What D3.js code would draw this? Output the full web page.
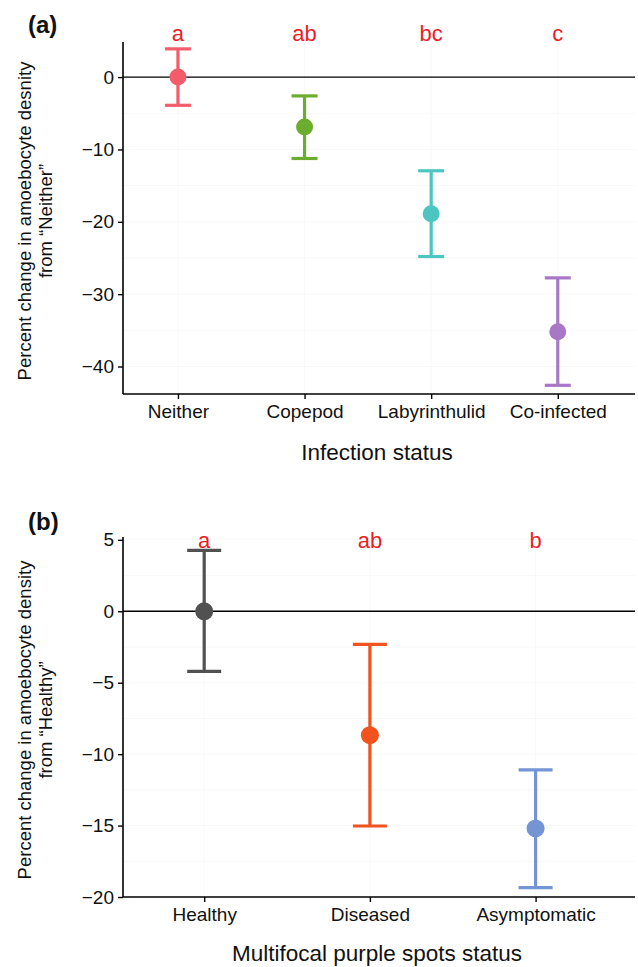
<!DOCTYPE html>
<html>
<head>
<meta charset="utf-8">
<script src="https://cdn.jsdelivr.net/npm/d3@7"></script>
<style>
  body { margin: 0; background: #fff; }
  svg { display: block; font-family: "Liberation Sans", Arial, Helvetica, sans-serif; }
</style>
</head>
<body>
<svg id="chart" width="638" height="967"></svg>
<script>
// panel (a) data
const catsA = ["Neither", "Copepod", "Labyrinthulid", "Co-infected"];
const meanA = [0, -6.9, -18.9, -35.2];
const lowA = [-3.9, -11.25, -24.8, -42.6];
const highA = [3.9, -2.6, -12.95, -27.75];
const lettersA = ["a", "ab", "bc", "c"];
const colorsA = ["#F25C6B", "#6BAE2F", "#4DC5C1", "#A877C6"];
const ticksA = [0, -10, -20, -30, -40];

// panel (b) data
const catsB = ["Healthy", "Diseased", "Asymptomatic"];
const meanB = [0, -8.67, -15.2];
const lowB = [-4.2, -15.03, -19.35];
const highB = [4.26, -2.31, -11.1];
const lettersB = ["a", "ab", "b"];
const colorsB = ["#515151", "#F0531E", "#7594D3"];
const ticksB = [5, 0, -5, -10, -15, -20];

const svg = d3.select("#chart");

function drawPanel(p) {
  const g = svg.append("g");
  const x = d3.scaleLinear().domain(p.xDomain).range([123, 635]);
  const y = d3.scaleLinear().domain(p.yDomain).range([p.bottom, p.top]);

  // faint grid
  const minor = d3.range(Math.ceil(p.yDomain[0] / p.step) * p.step, p.yDomain[1], p.step / 2);
  g.selectAll(".gy").data(minor).enter().append("line")
    .attr("x1", 123).attr("x2", 635)
    .attr("y1", d => y(d)).attr("y2", d => y(d))
    .attr("stroke", "#f8f8f8").attr("stroke-width", 1);
  g.selectAll(".gx").data(p.cats).enter().append("line")
    .attr("x1", (d, i) => x(i + 1)).attr("x2", (d, i) => x(i + 1))
    .attr("y1", p.top).attr("y2", p.bottom)
    .attr("stroke", "#f8f8f8").attr("stroke-width", 1);

  // zero line
  g.append("line")
    .attr("x1", 123).attr("x2", 635)
    .attr("y1", y(0)).attr("y2", y(0))
    .attr("stroke", "#000").attr("stroke-width", 1.4);

  // axes
  const yAxis = g.append("g")
    .attr("transform", "translate(123,0)")
    .call(d3.axisLeft(y).tickValues(p.ticks).tickSize(5).tickPadding(4).tickFormat(d => d < 0 ? "\u2212" + Math.abs(d) : d));
  const xAxis = g.append("g")
    .attr("transform", `translate(0,${p.bottom})`)
    .call(d3.axisBottom(x).tickValues(p.cats.map((d, i) => i + 1)).tickSize(5).tickPadding(6).tickFormat((d, i) => p.cats[i]));
  [yAxis, xAxis].forEach(a => {
    a.select(".domain").attr("stroke", "#000").attr("stroke-width", 1.6);
    a.selectAll(".tick line").attr("stroke", "#000").attr("stroke-width", 1.4);
    a.selectAll("text").attr("fill", "#111").style("font-size", "19px").style("font-family", "Liberation Sans, Arial, sans-serif");
  });
  yAxis.select(".domain").attr("d", `M0,${p.top}V${p.bottom}`);
  xAxis.select(".domain").attr("d", `M123,0H635`);

  // error bars
  const bars = g.selectAll(".eb").data(p.cats).enter().append("g");
  bars.append("line")
    .attr("x1", (d, i) => x(i + 1)).attr("x2", (d, i) => x(i + 1))
    .attr("y1", (d, i) => y(p.high[i])).attr("y2", (d, i) => y(p.low[i]))
    .attr("stroke", (d, i) => p.colors[i]).attr("stroke-width", 3.2);
  [p.high, p.low].forEach(arr => {
    bars.append("line")
      .attr("x1", (d, i) => x(i + 1) - p.cap).attr("x2", (d, i) => x(i + 1) + p.cap)
      .attr("y1", (d, i) => y(arr[i])).attr("y2", (d, i) => y(arr[i]))
      .attr("stroke", (d, i) => p.colors[i]).attr("stroke-width", 3.2);
  });
  bars.append("circle")
    .attr("cx", (d, i) => x(i + 1)).attr("cy", (d, i) => y(p.mean[i]))
    .attr("r", p.r).attr("fill", (d, i) => p.colors[i]);

  // significance letters
  g.selectAll(".let").data(p.letters).enter().append("text")
    .attr("x", (d, i) => x(i + 1)).attr("y", p.letterY)
    .attr("text-anchor", "middle")
    .style("font-size", "22px").attr("fill", "#EC1C24")
    .text(d => d);

  // panel tag
  g.append("text").attr("x", 28).attr("y", p.tagY)
    .style("font-size", "24px").style("font-weight", "bold").attr("fill", "#111")
    .text(p.tag);

  // y label
  const mid = (p.top + p.bottom) / 2 + 3;
  const yl = g.append("text")
    .attr("transform", `translate(0,${mid}) rotate(-90)`)
    .attr("text-anchor", "middle").style("font-size", "18.5px").attr("fill", "#111");
  yl.append("tspan").attr("x", 0).attr("y", 31).text(p.ylab[0]);
  yl.append("tspan").attr("x", 0).attr("y", 52).text(p.ylab[1]);

  // x label
  g.append("text").attr("x", 377).attr("y", p.xlabY)
    .attr("text-anchor", "middle").style("font-size", "22.5px").attr("fill", "#111")
    .text(p.xlab);
}

drawPanel({
  cats: catsA, mean: meanA, low: lowA, high: highA, letters: lettersA, colors: colorsA, ticks: ticksA,
  xDomain: [0.566, 4.61], yDomain: [-43.8, 4.85], top: 42, bottom: 394, step: 10,
  cap: 13, r: 8.5, letterY: 41, tag: "(a)", tagY: 33,
  ylab: ["Percent change in amoebocyte desnity", "from \u201cNeither\u201d"],
  xlab: "Infection status", xlabY: 460
});

drawPanel({
  cats: catsB, mean: meanB, low: lowB, high: highB, letters: lettersB, colors: colorsB, ticks: ticksB,
  xDomain: [0.51, 3.6], yDomain: [-20, 5.2], top: 537, bottom: 897, step: 5,
  cap: 17, r: 9, letterY: 548, tag: "(b)", tagY: 530,
  ylab: ["Percent change in amoebocyte density", "from \u201cHealthy\u201d"],
  xlab: "Multifocal purple spots status", xlabY: 961
});
</script>
</body>
</html>
